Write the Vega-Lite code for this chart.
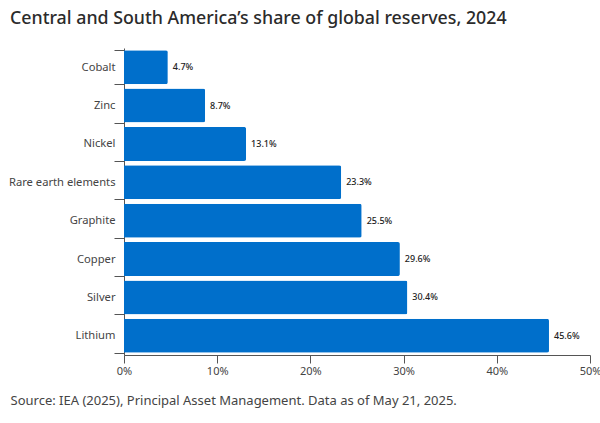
{
  "$schema": "https://vega.github.io/schema/vega-lite/v6.json",
  "width": 466,
  "height": 307,
  "padding": {"left": 124, "top": 48, "right": 10, "bottom": 68},
  "autosize": "none",
  "background": "white",
  "title": {"text": "Central and South America’s share of global reserves, 2024", "anchor": "start", "frame": "group", "font": "Noto Sans", "fontSize": 17.8, "fontWeight": 500, "color": "#2b2b2b", "dx": -114, "offset": 14},
  "view": {"stroke": null},
  "data": {"values": [
    {"mineral": "Cobalt", "share": 4.7, "label": "4.7%"},
    {"mineral": "Zinc", "share": 8.7, "label": "8.7%"},
    {"mineral": "Nickel", "share": 13.1, "label": "13.1%"},
    {"mineral": "Rare earth elements", "share": 23.3, "label": "23.3%"},
    {"mineral": "Graphite", "share": 25.5, "label": "25.5%"},
    {"mineral": "Copper", "share": 29.6, "label": "29.6%"},
    {"mineral": "Silver", "share": 30.4, "label": "30.4%"},
    {"mineral": "Lithium", "share": 45.6, "label": "45.6%"}
  ]},
  "encoding": {
    "y": {"field": "mineral", "type": "nominal", "sort": null, "scale": {"paddingInner": 0.115, "paddingOuter": 0.0575},
      "axis": {"title": null, "labelFont": "Noto Sans", "labelFontSize": 11.2, "labelColor": "#444444", "tickColor": "#555555", "domainColor": "#555555", "tickSize": 10, "labelPadding": -1, "tickBand": "extent"}},
    "x": {"field": "share", "type": "quantitative", "scale": {"domain": [0, 50]},
      "axis": {"title": "Source: IEA (2025), Principal Asset Management. Data as of May 21, 2025.", "titleFont": "Noto Sans", "titleFontSize": 13, "titleFontWeight": "normal", "titleColor": "#444444", "titleAnchor": "start", "titleAlign": "left", "titleBaseline": "alphabetic", "titleX": -114, "titleY": 49, "values": [0, 10, 20, 30, 40, 50], "labelExpr": "datum.value + '%'", "grid": false, "labelFont": "Noto Sans", "labelFontSize": 11, "labelColor": "#444444", "tickColor": "#555555", "domainColor": "#555555", "tickSize": 8, "labelPadding": 2, "labelFlush": false, "labelOverlap": false}}
  },
  "layer": [
    {"mark": {"type": "bar", "color": "#006fcb", "cornerRadiusEnd": 2}},
    {"mark": {"type": "text", "align": "left", "dx": 5, "font": "Noto Sans", "fontSize": 9, "fontWeight": 500, "color": "#222222"}, "encoding": {"text": {"field": "label"}}}
  ]
}
